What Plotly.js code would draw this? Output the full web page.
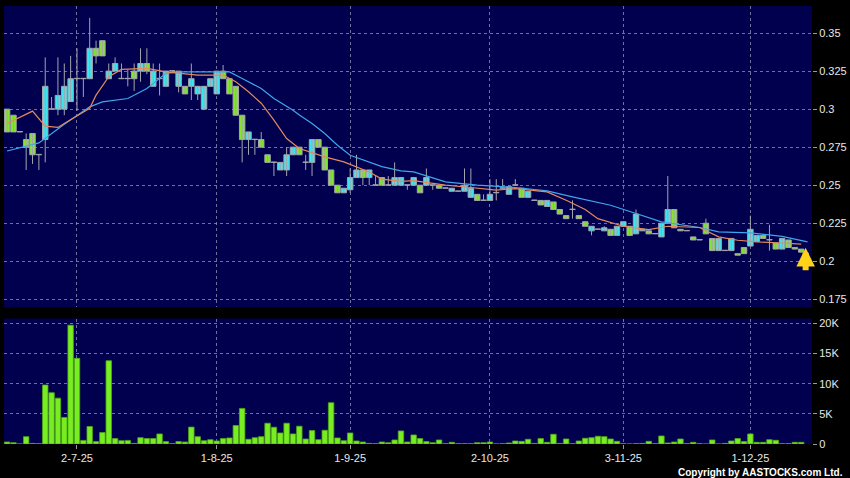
<!DOCTYPE html>
<html><head><meta charset="utf-8">
<script src="https://cdn.plot.ly/plotly-3.0.1.min.js"></script>
<style>html,body{margin:0;padding:0;background:#000;}#chart{width:850px;height:478px;}</style>
</head><body><div id="chart"></div>
<script>
const opens = [.300,.296,.285,.280,.284,.270,.280,.300,.300,.300,.305,.320,.320,.320,.340,.345,.320,.325,.320,.320,
.325,.325,.330,.315,.320,.315,.325,.315,.315,.315,.310,.300,.315,.310,.325,.320,.315,.296,.280,.280,
.280,.270,.265,.260,.260,.270,.275,.265,.265,.280,.275,.260,.250,.245,.247,.255,.260,.255,.250,.255,
.250,.250,.250,.250,.250,.250,.250,.250,.250,.248,.246,.246,.246,.242,.244,.240,.240,.245,.248,.244,
.250,.248,.242,.240,.240,.236,.239,.234,.230,.234,.230,.226,.220,.221,.220,.221,.217,.223,.223,.218,
.220,.220,.218,.216,.225,.234,.221,.220,.216,.214,.225,.215,.207,.207,.207,.205,.209,.210,.213,.217,
.214,.212,.208,.214,.209,.208];
const highs = [.300,.296,.285,.284,.284,.270,.334,.308,.334,.330,.335,.340,.320,.360,.345,.345,.330,.334,.330,.326,
.330,.340,.340,.330,.330,.325,.325,.325,.315,.330,.315,.315,.320,.325,.329,.320,.315,.296,.285,.280,
.285,.270,.265,.265,.275,.275,.275,.270,.280,.280,.275,.260,.250,.248,.261,.270,.260,.260,.256,.255,
.256,.265,.255,.250,.255,.250,.261,.250,.250,.248,.248,.246,.261,.261,.244,.244,.254,.254,.254,.249,
.254,.248,.246,.240,.240,.240,.239,.234,.230,.240,.230,.226,.223,.221,.223,.221,.223,.226,.223,.234,
.221,.220,.218,.225,.256,.234,.221,.220,.216,.214,.228,.215,.215,.207,.215,.205,.209,.230,.217,.217,
.224,.212,.215,.214,.209,.208];
const lows = [.285,.285,.285,.260,.264,.260,.265,.300,.296,.296,.305,.299,.308,.320,.330,.335,.320,.325,.320,.315,
.312,.318,.323,.315,.309,.315,.325,.311,.310,.306,.306,.300,.315,.310,.320,.310,.296,.265,.270,.270,
.275,.265,.256,.260,.256,.270,.270,.260,.256,.275,.260,.250,.245,.245,.245,.255,.250,.250,.250,.250,
.250,.250,.250,.247,.250,.245,.250,.247,.248,.248,.246,.246,.246,.242,.240,.240,.240,.240,.248,.244,
.250,.242,.242,.240,.237,.236,.234,.231,.228,.228,.228,.223,.217,.221,.220,.217,.217,.223,.217,.218,
.220,.218,.218,.216,.225,.222,.220,.220,.214,.214,.218,.207,.207,.207,.207,.204,.205,.210,.213,.215,
.207,.208,.208,.209,.208,.206];
const closes = [.285,.285,.285,.275,.270,.270,.315,.300,.309,.315,.320,.320,.320,.340,.335,.335,.325,.330,.320,.320,
.320,.330,.325,.325,.320,.325,.325,.325,.310,.320,.315,.315,.320,.325,.320,.310,.296,.280,.285,.280,
.275,.265,.265,.265,.270,.275,.270,.265,.280,.275,.260,.250,.245,.248,.255,.260,.255,.260,.250,.250,
.250,.255,.255,.250,.255,.245,.255,.250,.248,.248,.248,.246,.250,.248,.240,.240,.244,.245,.248,.249,
.250,.242,.246,.240,.237,.240,.234,.231,.228,.234,.228,.223,.223,.221,.222,.217,.223,.226,.217,.231,
.221,.218,.218,.225,.234,.222,.220,.220,.214,.214,.218,.207,.215,.207,.215,.204,.205,.221,.217,.215,
.214,.208,.215,.209,.208,.206];
const volumes = [330,220,0,1220,100,50,9780,8500,7600,4400,19700,14200,600,2900,400,1900,13800,900,550,600,
100,1050,900,900,1670,400,50,400,330,2800,1220,550,720,500,900,1000,3060,5900,780,1050,
1220,3450,2780,1830,3450,1670,2950,830,2220,720,2280,6840,1000,550,1830,500,330,100,50,330,
220,670,2170,330,1500,900,400,220,670,50,280,50,50,50,220,220,330,0,50,170,
500,440,780,100,900,280,1610,100,830,50,500,950,1050,1280,1220,830,440,50,0,50,
100,440,50,1330,170,330,830,50,280,50,0,670,0,100,500,900,400,1670,280,280,
720,610,50,50,280,280];
const maShortDay = [0,4,6,8,9,13,14,16,18,22,25,30,34,36,38,40,42,44,46,48,50,53,55,57,59,62,64,69,73,77,80,85,88,91,93,97,101,104,109,112,115,118,122,125];
const maShortVal = [.2906,.2987,.2888,.2880,.2906,.3005,.3092,.3213,.3261,.3268,.3245,.3224,.3224,.3180,.3114,.3039,.2928,.2807,.2741,.2712,.2686,.2653,.2620,.2587,.2540,.2525,.2530,.2500,.2485,.2467,.2478,.2456,.2401,.2340,.2280,.2230,.2208,.2230,.2222,.2160,.2138,.2127,.2120,.2112];
const maLongDay = [0,5,9,13,15,19,22,25,27,35,37,40,42,45,46,48,50,52,54,57,59,62,64,69,74,80,85,89,93,95,99,103,109,112,117,122,126];
const maLongVal = [.2725,.2778,.2900,.3015,.3048,.3070,.3136,.3235,.3245,.3245,.3202,.3136,.3070,.2993,.2961,.2906,.2840,.2763,.2697,.2653,.2622,.2594,.2587,.2522,.2500,.2485,.2463,.2423,.2385,.2368,.2314,.2259,.2222,.2193,.2186,.2164,.2127];
const tickDays = [11,33,54,76,97,117];
const tickLabels = ['2-7-25','1-8-25','1-9-25','2-10-25','3-11-25','1-12-25'];
const priceTicks = [0.175,0.2,0.225,0.25,0.275,0.3,0.325,0.35];
const priceTickText = ['0.175','0.2','0.225','0.25','0.275','0.3','0.325','0.35'];
const volTicks = [0,5000,10000,15000,20000];
const volTickText = ['0','5K','10K','15K','20K'];
const copyright = 'Copyright by AASTOCKS.com Ltd.';

const UP = '#3ce6f2', DOWN = '#84e62c', EDGE = '#a4a4ac';
const days = opens.map((_, i) => i);
const bodyBase = days.map(i => Math.min(opens[i], closes[i]));
const bodyLen = days.map(i => Math.max(Math.abs(closes[i] - opens[i]), 0.00025));
const bodyColor = days.map(i => closes[i] > opens[i] ? UP : (closes[i] < opens[i] ? DOWN : EDGE));
const wickX = [], wickY = [];
days.forEach(i => { wickX.push(i, i, null); wickY.push(lows[i], highs[i], null); });

const FONT = 'Liberation Sans, Arial, sans-serif';
const gridC = 'rgba(150,150,185,0.75)';

const traces = [
  {type:'scatter', mode:'lines', x:wickX, y:wickY, xaxis:'x', yaxis:'y',
   line:{color:EDGE, width:1}, hoverinfo:'skip', showlegend:false, connectgaps:false},
  {type:'bar', x:days, base:bodyBase, y:bodyLen, xaxis:'x', yaxis:'y',
   marker:{color:bodyColor, line:{color:EDGE, width:1}}, hoverinfo:'skip', showlegend:false},
  {type:'scatter', mode:'lines', x:maLongDay, y:maLongVal, xaxis:'x', yaxis:'y',
   line:{color:'#3ea6ea', width:1.2}, hoverinfo:'skip', showlegend:false},
  {type:'scatter', mode:'lines', x:maShortDay, y:maShortVal, xaxis:'x', yaxis:'y',
   line:{color:'#e48a5c', width:1.2}, hoverinfo:'skip', showlegend:false},
  {type:'bar', x:days, y:volumes, xaxis:'x', yaxis:'y2',
   marker:{color:'#78ee22', line:{color:'#4fa814', width:0.8}}, hoverinfo:'skip', showlegend:false}
];

const layout = {
  width:850, height:478,
  margin:{l:4, r:38, t:6, b:34},
  paper_bgcolor:'#000000', plot_bgcolor:'#00004e',
  barmode:'overlay', bargap:0.14,
  font:{family:FONT, size:11, color:'#e8e8e8'},
  xaxis:{range:[-0.49,126.7], anchor:'y2',
    tickmode:'array', tickvals:tickDays, ticktext:tickLabels,
    ticks:'outside', ticklen:4, tickcolor:'#9a9a9a',
    showgrid:true, gridcolor:gridC, griddash:'dot', gridwidth:1,
    zeroline:false, showline:false, tickfont:{size:11, color:'#e8e8e8'}},
  yaxis:{domain:[0.312,1], range:[0.1697,0.3678], side:'right', anchor:'x',
    tickmode:'array', tickvals:priceTicks, ticktext:priceTickText,
    ticks:'outside', ticklen:4, tickcolor:'#9a9a9a',
    showgrid:true, gridcolor:gridC, griddash:'dot', gridwidth:1,
    zeroline:false, showline:false, tickfont:{size:11, color:'#e8e8e8'}},
  yaxis2:{domain:[0,0.2865], range:[0,20800], side:'right', anchor:'x',
    tickmode:'array', tickvals:volTicks, ticktext:volTickText,
    ticks:'outside', ticklen:4, tickcolor:'#9a9a9a',
    showgrid:true, gridcolor:gridC, griddash:'dot', gridwidth:1,
    zeroline:false, showline:false, tickfont:{size:11, color:'#e8e8e8'}},
  annotations:[
    {text:copyright, xref:'paper', yref:'paper', x:1.0408, y:-0.064, xanchor:'right', yanchor:'middle',
     showarrow:false, font:{family:FONT, size:10, weight:'bold', color:'#ffffff'}},
    {text:'', xref:'x', yref:'y', x:125.7, y:0.2088, ax:0, ay:24, showarrow:true,
     arrowhead:2, arrowsize:0.62, arrowwidth:6, arrowcolor:'#ffd21a'}
  ]
};

Plotly.newPlot('chart', traces, layout, {staticPlot:true, displayModeBar:false});
</script>
</body></html>
